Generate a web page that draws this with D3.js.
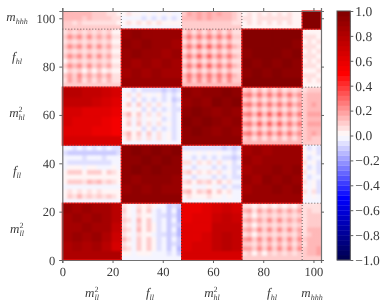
<!DOCTYPE html>
<html><head><meta charset="utf-8">
<script src="https://cdn.jsdelivr.net/npm/d3@7"></script>
<style>html,body{margin:0;padding:0;background:#fff}svg{display:block}
svg text{font-family:"Liberation Serif",serif !important;fill:#2a2a2a;text-rendering:geometricPrecision}
.lbl{opacity:.92}</style></head>
<body><div id="c"></div>
<script>
// Rows run bottom-up, columns left-to-right. Values are correlations.
const mllMll=[[.80,.84,.82,.84,.76,.64],[.85,.89,.85,.88,.82,.70],[.87,.84,.88,.85,.85,.74],[.85,.89,.85,.89,.84,.76],[.89,.86,.89,.86,.87,.78],[.87,.90,.87,.90,.85,.80]];
const fllMll=[
[.03,.10,.07,.12,.06,.11,.05,.10,.06,.10,.04,.02],
[.01,.04,.02,.05,.01,.05,.01,.04,.01,.03,.00,.00],
[-.01,-.03,-.02,-.02,-.04,-.02,-.04,-.02,-.03,-.02,-.02,-.01],
[.02,.08,.09,.10,.05,.12,.09,.12,.07,.10,.05,.02],
[.00,.02,.02,.02,.00,.03,.03,.03,.00,.02,.01,.00],
[.01,.09,.10,.10,.02,.10,.10,.10,.03,.08,.05,.00],
[-.01,.00,.01,.00,-.03,.00,.00,-.01,-.03,-.01,.00,-.01],
[-.03,-.05,-.05,-.05,-.07,-.05,-.05,-.05,-.07,-.05,-.04,-.03],
[-.04,-.02,-.04,-.01,-.06,-.01,-.03,-.01,-.05,-.01,-.04,-.03],
[-.07,-.11,-.09,-.11,-.12,-.11,-.09,-.11,-.11,-.11,-.09,-.07],
[-.04,-.04,-.06,-.02,-.08,-.04,-.05,-.03,-.07,-.04,-.06,-.05],
[-.09,-.13,-.11,-.12,-.14,-.13,-.11,-.13,-.14,-.13,-.11,-.09]];
const fllFll=[[.90,.94,.91,.94,.91,.90],[.94,.91,.95,.92,.95,.91],[.92,.96,.93,.96,.93,.94],[.95,.93,.96,.94,.96,.93],[.93,.96,.94,.97,.94,.96],[.96,.93,.96,.94,.97,.94]];
const mhlMll=[[.62,.60,.60,.59,.57,.54],[.64,.62,.62,.60,.58,.55],[.64,.64,.62,.62,.60,.56],[.74,.74,.72,.70,.66,.62],[.76,.76,.74,.72,.68,.64],[.74,.74,.72,.70,.66,.62]];
const mhlFll=[
[.03,.08,.02,.06,-.01,.05,-.02,.04,-.03,.01,-.05,-.02],
[.05,.12,.01,.10,-.01,.08,-.03,.06,-.04,.03,-.06,-.02],
[.01,.03,-.03,.02,-.05,.01,-.05,-.01,-.07,-.02,-.08,-.04],
[.03,.10,-.01,.08,-.02,.06,-.03,.04,-.04,.01,-.06,-.02],
[.00,.05,-.02,.04,-.04,.02,-.04,.01,-.06,-.02,-.07,-.03],
[.04,.12,.01,.10,-.01,.07,-.02,.05,-.04,.03,-.06,-.02],
[.00,.02,-.04,.01,-.05,.00,-.06,-.02,-.07,-.03,-.08,-.05],
[.03,.11,-.01,.09,-.02,.07,-.03,.04,-.04,.02,-.06,-.02],
[-.01,.01,-.05,.00,-.06,-.01,-.07,-.02,-.08,-.04,-.09,-.05],
[.01,.07,-.02,.05,-.04,.03,-.04,.02,-.06,-.01,-.07,-.03],
[-.03,-.04,-.07,-.04,-.08,-.05,-.08,-.05,-.09,-.06,-.10,-.07],
[-.01,-.01,-.05,-.02,-.06,-.03,-.06,-.03,-.07,-.04,-.08,-.06]];
const mhlMhl=[[.92,.96,.93,.90,.94,.90],[.97,.93,.97,.93,.90,.93],[.93,.97,.94,.90,.94,.90],[.90,.93,.90,.97,.94,.97],[.94,.90,.94,.93,.98,.94],[.90,.94,.90,.98,.94,.98]];
const fhlMll=[
[.07,.16,.08,.16,.07,.15,.07,.15,.07,.14,.05,.04],
[.08,.19,.11,.20,.10,.18,.10,.18,.10,.17,.06,.05],
[.03,.10,.05,.10,.03,.08,.03,.08,.03,.07,.02,.02],
[.09,.21,.12,.21,.10,.20,.10,.19,.10,.18,.06,.05],
[.03,.10,.05,.10,.04,.09,.04,.09,.04,.08,.02,.02],
[.10,.22,.13,.22,.11,.21,.11,.20,.11,.18,.07,.05],
[.04,.11,.06,.11,.04,.10,.04,.10,.04,.09,.02,.02],
[.10,.22,.13,.22,.11,.20,.11,.20,.10,.18,.07,.05],
[.04,.10,.05,.10,.04,.10,.04,.09,.04,.08,.02,.02],
[.10,.21,.12,.21,.10,.20,.10,.19,.10,.18,.06,.05],
[.04,.11,.06,.11,.05,.10,.05,.10,.05,.09,.03,.02],
[.10,.20,.13,.21,.12,.18,.11,.18,.11,.17,.08,.06]];
const fhlFll=[[.86,.90,.86,.88,.84,.84],[.90,.87,.90,.86,.88,.84],[.88,.92,.88,.90,.86,.88],[.92,.88,.92,.88,.90,.86],[.90,.93,.90,.91,.88,.88],[.92,.90,.92,.89,.90,.86]];
const fhlMhl=[
[.11,.20,.10,.22,.11,.22,.11,.22,.10,.21,.10,.08],
[.14,.24,.14,.26,.14,.26,.14,.26,.14,.24,.12,.10],
[.06,.14,.06,.14,.06,.14,.06,.14,.06,.13,.06,.04],
[.14,.26,.14,.28,.14,.28,.14,.26,.14,.26,.12,.10],
[.06,.14,.06,.14,.06,.14,.06,.14,.06,.13,.06,.04],
[.14,.26,.14,.29,.15,.29,.14,.27,.14,.26,.12,.10],
[.07,.14,.06,.15,.07,.15,.07,.14,.06,.14,.06,.05],
[.14,.26,.14,.29,.15,.29,.14,.27,.14,.26,.12,.10],
[.06,.14,.06,.14,.06,.14,.06,.14,.06,.13,.06,.04],
[.14,.25,.14,.26,.14,.26,.14,.26,.14,.24,.11,.10],
[.06,.14,.06,.14,.07,.14,.07,.14,.06,.13,.06,.05],
[.13,.22,.13,.24,.14,.24,.13,.23,.13,.22,.10,.09]];
const fhlFhl=[[.94,.97,.95,.97,.95,.94],[.97,.95,.98,.95,.97,.95],[.95,.98,.96,.98,.95,.97],[.98,.96,.98,.96,.98,.95],[.96,.98,.96,.98,.96,.97],[.98,.96,.98,.96,.98,.96]];
const hhhMll=[
[.08,.08,.07,.08,.06,.06,.06,.06,.05,.05,.04,.03],
[.14,.15,.13,.14,.11,.12,.10,.10,.08,.08,.05,.04],
[.13,.15,.14,.14,.13,.13,.11,.11,.08,.07,.04,.03],
[.17,.18,.15,.14,.13,.12,.11,.10,.08,.07,.06,.04]];
const hhhFll=[
[.02,.05,.03,.04,.02,.04,.02,.04,.01,.03,.00,.00],
[-.02,-.03,-.04,-.03,-.05,-.03,-.05,-.03,-.06,-.04,-.06,-.03],
[.01,.04,.00,.03,-.01,.02,-.01,.02,-.02,.01,-.02,-.01],
[-.04,-.06,-.05,-.07,-.04,-.07,-.05,-.07,-.04,-.07,-.05,-.04]];
const hhhMhl=[
[.08,.10,.08,.10,.09,.10,.08,.10,.08,.09,.06,.05],
[.12,.15,.13,.16,.13,.16,.13,.15,.12,.14,.08,.06],
[.11,.16,.14,.17,.14,.17,.14,.16,.13,.14,.08,.06],
[.10,.14,.13,.16,.13,.16,.13,.14,.12,.13,.08,.06]];
const hhhFhl=[
[.02,.04,.03,.04,.03,.04,.03,.04,.03,.04,.02,.02],
[.05,.06,.03,.07,.04,.07,.04,.07,.05,.06,.03,.02],
[.02,.04,.02,.05,.02,.04,.02,.05,.02,.04,.01,.02],
[.04,.03,.05,.02,.06,.03,.06,.03,.05,.02,.03,.03]];
const hhhHhh=[[.97,.98],[.98,.97]];

const groupEdges=[0,23.5,47.5,71.5,95.5,103];
const axisTicks=[0,20,40,60,80,100];
const barTicks=[1,.8,.6,.4,.2,0,-.2,-.4,-.6,-.8,-1];
const barLevels=50;
// [row group, column group, cells]
const blocks=[[0,0,mllMll],[1,0,fllMll],[1,1,fllFll],[2,0,mhlMll],[2,1,mhlFll],[2,2,mhlMhl],[3,0,fhlMll],[3,1,fhlFll],[3,2,fhlMhl],[3,3,fhlFhl],[4,0,hhhMll],[4,1,hhhFll],[4,2,hhhMhl],[4,3,hhhFhl],[4,4,hhhHhh]];
const darkBlocks=[[0,0],[1,1],[2,2],[3,3],[4,4],[1,3],[3,1],[0,2],[2,0]];

const W=385,H=306;
const x=d3.scaleLinear().domain([0,103]).range([62.3,321]);
const y=d3.scaleLinear().domain([0,103]).range([260,11]);
const seismic=d3.scaleLinear().domain([-1,-.5,0,.5,1]).range(["#00004d","#0000ff","#ffffff","#ff0000","#800000"]);
const quant=d3.scaleQuantize().domain([-1,1]).range(d3.range(barLevels).map(i=>seismic(-1+(i+.5)*2/barLevels)));
const svg=d3.select("#c").append("svg").attr("width",W).attr("height",H);
const defs=svg.append("defs");
defs.append("filter").attr("id","sm").attr("x","-20%").attr("y","-20%").attr("width","140%").attr("height","140%")
  .append("feGaussianBlur").attr("stdDeviation",1.3);

function drawBlock(colGroup,rowGroup,cells,mirror){
  const rows=mirror?cells[0].length:cells.length, cols=mirror?cells.length:cells[0].length;
  const value=(r,c)=>mirror?cells[c][r]:cells[r][c];
  const bx=d3.scaleBand().domain(d3.range(cols)).range([x(groupEdges[colGroup]),x(groupEdges[colGroup+1])]);
  const by=d3.scaleBand().domain(d3.range(rows)).range([y(groupEdges[rowGroup]),y(groupEdges[rowGroup+1])]);
  const id=`clip${colGroup}_${rowGroup}`;
  const x0=bx.range()[0],x1=bx.range()[1],y0=by.range()[1],y1=by.range()[0];
  defs.append("clipPath").attr("id",id).append("rect").attr("x",x0).attr("y",y0).attr("width",x1-x0).attr("height",y1-y0);
  const g=svg.append("g").attr("clip-path",`url(#${id})`);
  g.append("rect").attr("x",x0).attr("y",y0).attr("width",x1-x0).attr("height",y1-y0).attr("fill",quant(d3.mean(cells.flat())));
  const inner=g.append("g").attr("filter","url(#sm)");
  const list=[];d3.range(rows).forEach(r=>d3.range(cols).forEach(c=>list.push({r,c,v:value(r,c)})));
  inner.selectAll("rect").data(list).join("rect")
    .attr("x",d=>bx(d.c)).attr("y",d=>by(d.r)-by.bandwidth()).attr("width",bx.bandwidth()+.5).attr("height",by.bandwidth()+.5)
    .attr("fill",d=>quant(d.v));
}
blocks.forEach(([r,c,cells])=>{drawBlock(c,r,cells,false); if(r!==c)drawBlock(r,c,cells,true);});

// bright rims around the dark blocks
svg.append("g").selectAll("rect").data(darkBlocks).join("rect")
  .attr("x",d=>x(groupEdges[d[1]])).attr("y",d=>y(groupEdges[d[0]+1]))
  .attr("width",d=>x(groupEdges[d[1]+1])-x(groupEdges[d[1]]))
  .attr("height",d=>y(groupEdges[d[0]])-y(groupEdges[d[0]+1]))
  .attr("fill","none").attr("stroke","#f01010").attr("stroke-width",1.2);

// dotted separators
const seps=groupEdges.slice(1,-1);
svg.append("g").selectAll("line").data(seps).join("line")
  .attr("x1",d=>x(d)).attr("x2",d=>x(d)).attr("y1",y(0)).attr("y2",y(103))
  .attr("stroke","#333").attr("stroke-opacity",.75).attr("stroke-dasharray","1,2");
svg.append("g").selectAll("line").data(seps).join("line")
  .attr("y1",d=>y(d)).attr("y2",d=>y(d)).attr("x1",x(0)).attr("x2",x(103))
  .attr("stroke","#333").attr("stroke-opacity",.75).attr("stroke-dasharray","1,2");

// axes
function styleAxis(g,fs){
  g.attr("font-family",null).attr("font-size",null).attr("class","lbl");
  g.selectAll("path").attr("stroke","#666").attr("stroke-width",1.2);
  g.selectAll("line").attr("stroke","#555");
  g.selectAll("text").style("font-size",fs+"px").attr("fill",null);
}
const mkAxis=(fn,s)=>fn(s).tickValues(axisTicks).tickSize(3).tickPadding(4);
svg.append("g").attr("transform",`translate(0,${y(0)})`).call(mkAxis(d3.axisBottom,x)).call(styleAxis,12.5);
svg.append("g").attr("transform",`translate(0,${y(103)})`).call(mkAxis(d3.axisTop,x).tickFormat("")).call(styleAxis,12.5);
svg.append("g").attr("transform",`translate(${x(0)},0)`).call(mkAxis(d3.axisLeft,y)).call(styleAxis,12.5);
svg.append("g").attr("transform",`translate(${x(103)},0)`).call(mkAxis(d3.axisRight,y).tickFormat("")).call(styleAxis,12.5);

// colour bar
const barX=337,barW=13.3;
const cy=d3.scaleLinear().domain([-1,1]).range([260,11]);
const lv=d3.range(barLevels);
svg.append("g").selectAll("rect").data(lv).join("rect")
  .attr("x",barX).attr("width",barW)
  .attr("y",i=>cy(-1+(i+1)*2/barLevels)).attr("height",i=>cy(-1+i*2/barLevels)-cy(-1+(i+1)*2/barLevels)+.3)
  .attr("fill",i=>quant.range()[i]);
svg.append("rect").attr("x",barX).attr("y",11).attr("width",barW).attr("height",249).attr("fill","none").attr("stroke","#555").attr("stroke-width",1);
svg.append("g").attr("transform",`translate(${barX+barW},0)`)
  .call(d3.axisRight(cy).tickValues(barTicks).tickSize(3).tickPadding(2).tickFormat(d=>d3.format(".1f")(d).replace("-","\u2212")))
  .call(styleAxis,13.5).call(g=>g.select("path").remove());

// group labels
function mathLabel(px,py,base,sub,sup){
  const t=svg.append("text").attr("class","lbl").attr("x",px).attr("y",py).attr("text-anchor","middle").style("font-style","italic").style("font-size","13px");
  t.append("tspan").text(base);
  if(sup){
    const s=t.append("tspan").attr("dy",-5).style("font-size","8px").style("font-style","normal").text(sup);
    const n=s.node().getComputedTextLength();
    t.append("tspan").attr("dx",-n).attr("dy",8).style("font-size","8px").text(sub);
  } else t.append("tspan").attr("dy",2.5).style("font-size","8px").text(sub);
}
const labelNames=[["m","ll","2"],["f","ll",null],["m","hl","2"],["f","hl",null],["m","hhh",null]];
const xLabelPos=[92,150,212,272,312];
const yLabelPos=[233,175,117,61,21];
const yLabelX=[17,17,17,17,17];
labelNames.forEach((l,i)=>{mathLabel(xLabelPos[i],297,l[0],l[1],l[2]);mathLabel(yLabelX[i],yLabelPos[i],l[0],l[1],l[2]);});
</script></body></html>
